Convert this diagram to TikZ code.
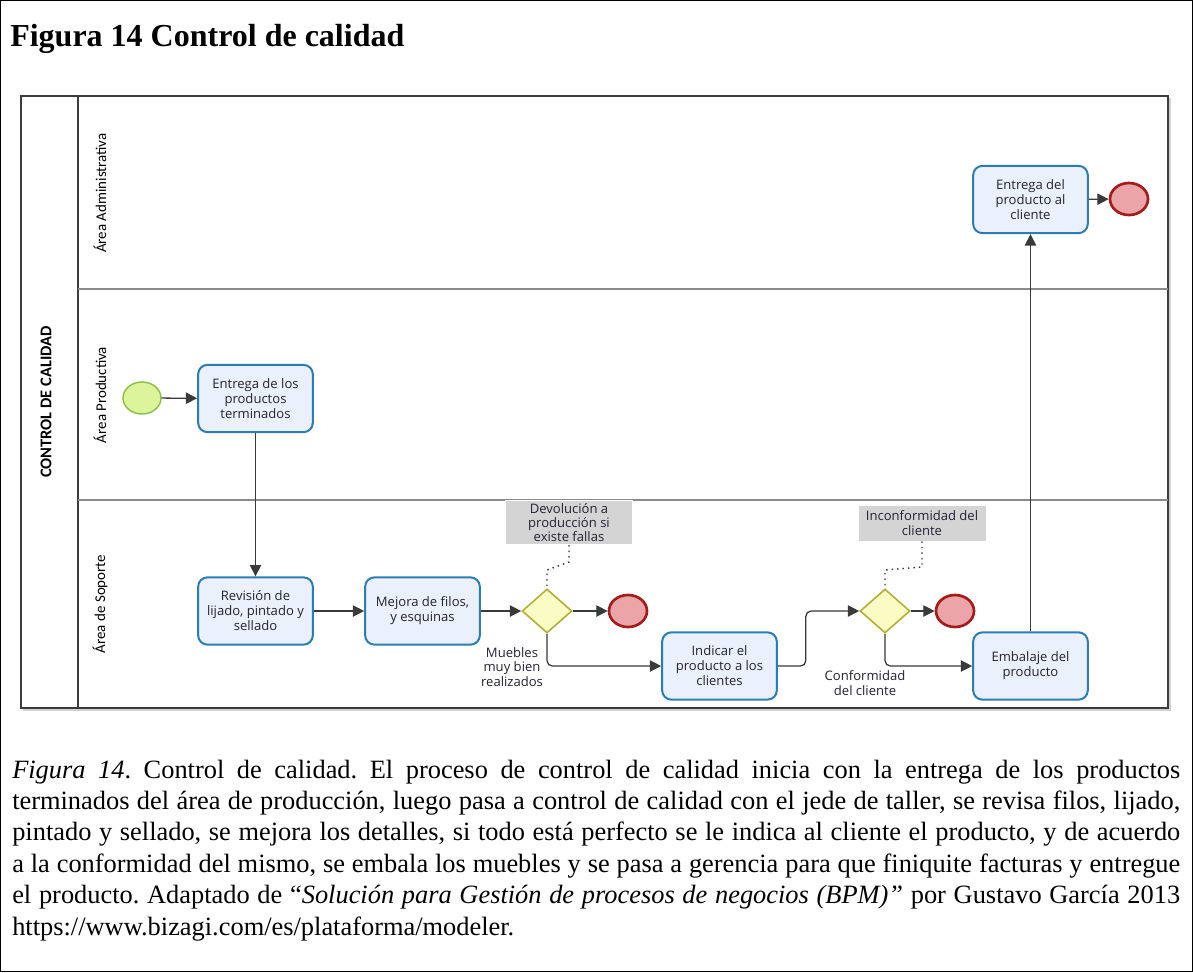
\documentclass[tikz,border=0pt]{standalone}
\usepackage{fontspec}
\setmainfont{Liberation Serif}
\newfontfamily\dgfont{Open Sans}
\newfontfamily\lanefont{Carlito}
\usetikzlibrary{shapes.geometric,arrows.meta}
\frenchspacing

\definecolor{taskfill}{HTML}{EAF0FC}
\definecolor{taskline}{HTML}{2C7DB3}
\definecolor{startfill}{HTML}{DDF59A}
\definecolor{startline}{HTML}{8CC04A}
\definecolor{endfill}{HTML}{EBA4A8}
\definecolor{endline}{HTML}{A31C1C}
\definecolor{gwfill}{HTML}{FBFBC4}
\definecolor{gwline}{HTML}{B0B038}
\definecolor{annfill}{HTML}{D4D4D4}
\definecolor{poolline}{HTML}{3C3C3C}
\definecolor{laneline}{HTML}{8A8A8A}
\definecolor{flowline}{HTML}{3A3A3A}
\definecolor{dgtext}{HTML}{262233}

\tikzset{
  task/.style={draw=taskline, fill=taskfill, line width=1.5pt, rounded corners=7pt,
    minimum width=86pt, minimum height=50.5pt, inner sep=2pt, align=center,
    font=\dgfont\fontsize{9.8}{11.25}\selectfont, text=dgtext},
  startev/.style={ellipse, draw=startline, fill=startfill, line width=1.1pt,
    minimum width=28.5pt, minimum height=24pt, inner sep=0pt},
  endev/.style={ellipse, draw=endline, fill=endfill, line width=2pt,
    minimum width=28.5pt, minimum height=24pt, inner sep=0pt},
  gateway/.style={diamond, draw=gwline, fill=gwfill, line width=1.2pt,
    minimum width=37.5pt, minimum height=33pt, inner sep=0pt},
  annot/.style={fill=annfill, draw=white, line width=0.6pt, inner sep=0pt, align=center,
    font=\dgfont\fontsize{9.8}{10.8}\selectfont, text=dgtext},
  flowlabel/.style={align=center, inner sep=0pt, font=\dgfont\fontsize{9.8}{10.8}\selectfont, text=dgtext},
  flow/.style={draw=flowline, line width=0.95pt, rounded corners=4pt,
    -{Triangle[length=8.5pt,width=8.5pt]}},
  assoc/.style={draw=flowline, line width=1.1pt, dash pattern=on 1.1pt off 3pt},
  lanelabel/.style={rotate=90, inner sep=0pt, font=\lanefont\fontsize{11.2}{13}\selectfont},
  capline/.style={anchor=base west, inner sep=0pt, font=\fontsize{19.8}{23.5}\selectfont}
}

\begin{document}
\begin{tikzpicture}[x=0.75pt,y=-0.75pt]
\useasboundingbox (0,0) rectangle (1193,972);
% page frame
\draw[black, line width=0.8pt] (0.5,0.5) rectangle (1192.5,971.5);

% heading
\node[anchor=base west, inner sep=0pt, font=\bfseries\fontsize{24}{28}\selectfont] (title) at (10,46) {Figura 14 Control de calidad};

% pool and lanes
\fill[black!18] (23,98) rectangle (1171,711);
\draw[poolline, line width=1.5pt, fill=white] (21,96) rectangle (1168,708);
\draw[poolline, line width=1.5pt] (78,96) -- (78,708);
\draw[laneline, line width=0.8pt] (78,289) -- (1168,289);
\draw[laneline, line width=0.8pt] (78,500) -- (1168,500);

\node[rotate=90, inner sep=0pt, font=\lanefont\bfseries\fontsize{12.3}{14}\selectfont] (pool) at (46,402) {CONTROL DE CALIDAD};
\node[lanelabel] (laneA) at (100,193) {Área  Administrativa};
\node[lanelabel] (laneP) at (100,395) {Área Productiva};
\node[lanelabel] (laneS) at (100,604) {Área de Soporte};

% events, activities and gateways
\node[startev] (start) at (142,398) {};
\node[task] (t1) at (255.5,398.5) {Entrega de los\\productos\\terminados};
\node[task] (t2) at (255.5,611) {Revisión de\\lijado, pintado y\\sellado};
\node[task] (t3) at (422.5,611) {Mejora de filos,\\y esquinas};
\node[gateway] (g1) at (547,611) {};
\node[endev] (e1) at (628,611) {};
\node[task] (t4) at (719.5,666) {Indicar el\\producto a los\\clientes};
\node[gateway] (g2) at (885,611) {};
\node[endev] (e2) at (955,611) {};
\node[task] (t5) at (1030.5,666) {Embalaje del\\producto};
\node[task] (t6) at (1030.5,199.5) {Entrega del\\producto al\\cliente};
\node[endev] (e3) at (1129,199) {};

% annotations
\node[annot, minimum width=95pt, minimum height=33.5pt] (a1) at (569,522.5) {Devolución a\\producción si\\existe fallas};
\node[annot, minimum width=96pt, minimum height=27pt] (a2) at (922,523) {Inconformidad del\\cliente};

% flow labels
\node[flowlabel] (l1) at (512,667) {Muebles\\muy bien\\realizados};
\node[flowlabel] (l2) at (865,683) {Conformidad\\del cliente};

% sequence flows
\draw[flow] (start) -- (t1);
\draw[flow] (t1) -- (t2);
\draw[flow] (t2) -- (t3);
\draw[flow] (t3) -- (g1);
\draw[flow] (g1) -- (e1);
\draw[flow] (g1.south) |- (t4.west);
\draw[flow] (t4.east) -- ++(28,0) |- (g2.west);
\draw[flow] (g2) -- (e2);
\draw[flow] (g2.south) |- (t5.west);
\draw[flow] (t5) -- (t6);
\draw[flow] (t6) -- (e3);

% associations
\coordinate (a1k1) at (569,562);
\coordinate (a1k2) at (547,570);
\draw[assoc] (a1.south) -- (a1k1) -- (a1k2) -- (g1.north);
\coordinate (a2k1) at (922,567);
\coordinate (a2k2) at (885,570);
\draw[assoc] (a2.south) -- (a2k1) -- (a2k2) -- (g2.north);

% caption
\node[capline] (c1) at (12,778) {\makebox[876pt][s]{\textit{Figura 14}. Control de calidad. El proceso de control de calidad inicia con la entrega de los productos}};
\node[capline] (c2) at (12,809.4) {\makebox[876pt][s]{terminados del área de producción, luego pasa a control de calidad con el jede de taller, se revisa filos, lijado,}};
\node[capline] (c3) at (12,840.8) {\makebox[876pt][s]{pintado y sellado, se mejora los detalles, si todo está perfecto se le indica al cliente el producto, y de acuerdo}};
\node[capline] (c4) at (12,872.2) {\makebox[876pt][s]{a la conformidad del mismo, se embala los muebles y se pasa a gerencia para que finiquite facturas y entregue}};
\node[capline] (c5) at (12,903.6) {\makebox[876pt][s]{el producto. Adaptado de “\textit{Solución para Gestión de procesos de negocios (BPM)”} por Gustavo García 2013}};
\node[capline] (c6) at (12,935) {https://www.bizagi.com/es/plataforma/modeler.};
\end{tikzpicture}
\end{document}
